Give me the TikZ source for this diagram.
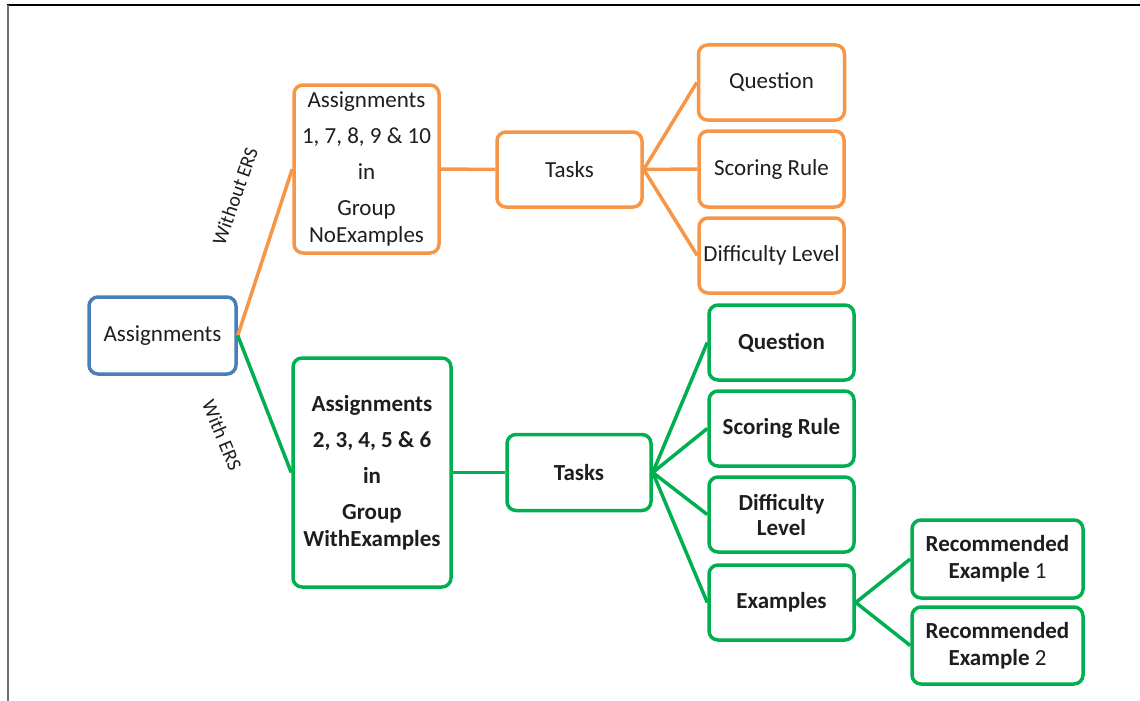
\documentclass[tikz,border=0pt]{standalone}
\usepackage{fontspec}
\setmainfont{Carlito}
\definecolor{orng}{HTML}{F79646}
\definecolor{grn}{HTML}{00B050}
\definecolor{blu}{HTML}{4A7EBB}
\definecolor{txt}{HTML}{1E1E1E}
\definecolor{frameg}{HTML}{707070}
\begin{document}
\begin{tikzpicture}[x=1pt,y=-1pt,
  box/.style={draw, line width=3.5pt, rounded corners=9pt, fill=white, align=center, inner sep=0pt, text=txt, font=\fontsize{23}{27}\selectfont},
  obox/.style={box, draw=orng},
  gbox/.style={box, draw=grn, font=\fontsize{23}{27}\selectfont\bfseries},
  bbox/.style={box, draw=blu},
  oline/.style={draw=orng, line width=3.5pt},
  gline/.style={draw=grn, line width=3.5pt},
  lbl/.style={font=\fontsize{20}{24}\selectfont, text=txt, inner sep=0pt},
]
\useasboundingbox (0,0) rectangle (1140,701);
\fill[white] (0,0) rectangle (1140,701);
% frame
\draw[black, line width=1.5pt] (7,5) -- (1140,5);
\draw[frameg, line width=2pt] (8,5) -- (8,701);

% root
\node[bbox, minimum width=147pt, minimum height=77pt] (root) at (162.5,335.5) {Assignments};

% orange branch
\node[obox, minimum width=145pt, minimum height=168pt] (oa) at (366.5,169) {Assignments\\[9pt]1, 7, 8, 9 \& 10\\[9pt]in\\[9pt]Group\\NoExamples};
\node[obox, minimum width=145pt, minimum height=75pt] (ot) at (569.5,169.5) {Tasks};
\node[obox, minimum width=146pt, minimum height=75pt] (oq) at (771.5,82.5) {Question};
\node[obox, minimum width=145pt, minimum height=76pt] (os) at (771.5,169) {Scoring Rule};
\node[obox, minimum width=145pt, minimum height=75pt] (od) at (771.5,255.5) {Difficulty Level};

% green branch
\node[gbox, minimum width=158pt, minimum height=229pt] (ga) at (372,472.5) {Assignments\\[9pt]2, 3, 4, 5 \& 6\\[9pt]in\\[9pt]Group\\WithExamples};
\node[gbox, minimum width=144pt, minimum height=76pt] (gt) at (579,472.5) {Tasks};
\node[gbox, minimum width=145pt, minimum height=75pt] (gq) at (781.5,342.5) {Question};
\node[gbox, minimum width=145pt, minimum height=75pt] (gs) at (781.5,428.5) {Scoring Rule};
\node[gbox, minimum width=145pt, minimum height=75pt] (gd) at (781.5,514.5) {Difficulty\\[-2pt]Level};
\node[gbox, minimum width=145pt, minimum height=75pt] (ge) at (781.5,602.5) {Examples};
\node[gbox, minimum width=171pt, minimum height=78pt] (r1) at (997.5,559) {Recommended\\Example {\mdseries 1}};
\node[gbox, minimum width=171pt, minimum height=77pt] (r2) at (997.5,645.5) {Recommended\\Example {\mdseries 2}};

% connectors
\draw[oline] (root.east) -- (oa.west);
\draw[gline] (root.east) -- (ga.west);
\draw[oline] (oa.east) -- (ot.west);
\draw[oline] (ot.east) -- (oq.west);
\draw[oline] (ot.east) -- (os.west);
\draw[oline] (ot.east) -- (od.west);
\draw[gline] (ga.east) -- (gt.west);
\draw[gline] (gt.east) -- (gq.west);
\draw[gline] (gt.east) -- (gs.west);
\draw[gline] (gt.east) -- (gd.west);
\draw[gline] (gt.east) -- (ge.west);
\draw[gline] (ge.east) -- (r1.west);
\draw[gline] (ge.east) -- (r2.west);

% edge labels
\node[lbl, rotate=70.6] (lwo) at (235,196) {Without ERS};
\node[lbl, rotate=-67.4] (lw) at (222,435) {With ERS};
\end{tikzpicture}
\end{document}
